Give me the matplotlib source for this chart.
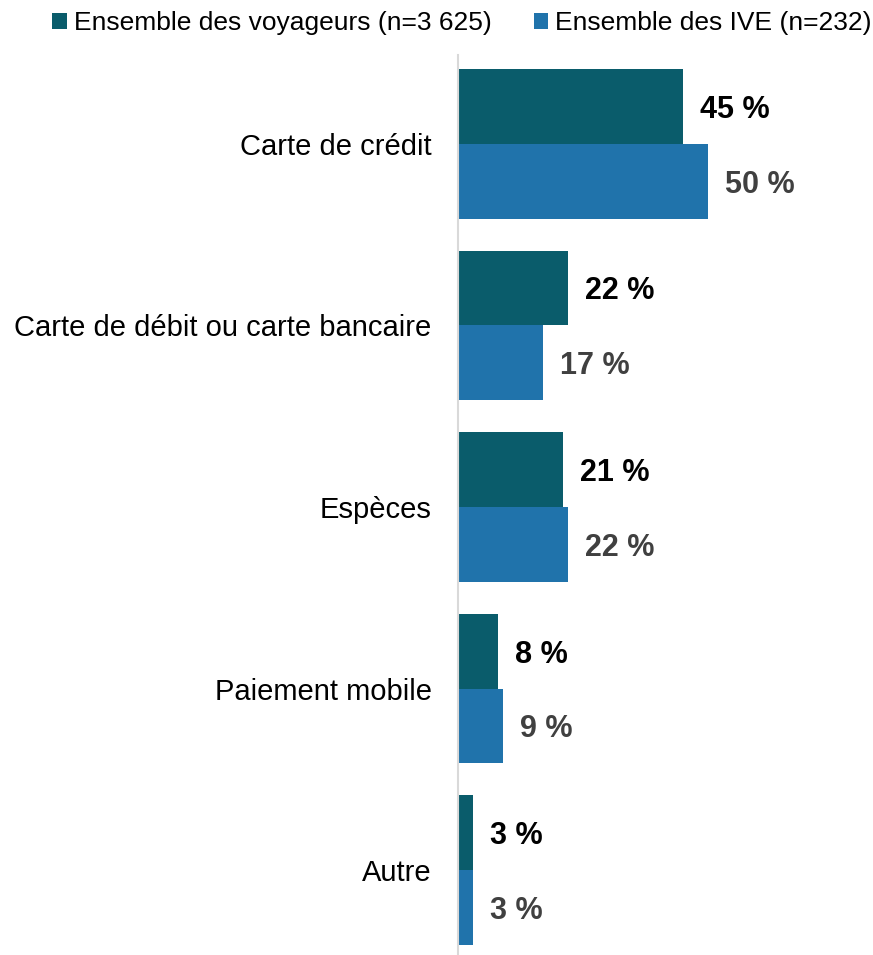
import numpy as np
import matplotlib
matplotlib.use("Agg")
import matplotlib.pyplot as plt

plt.rcParams["font.family"] = ["Liberation Sans", "DejaVu Sans"]

#####################
### Data
#####################
categories = ["Carte de crédit", "Carte de débit ou carte bancaire", "Espèces",
              "Paiement mobile", "Autre"]
voyageurs = [45, 22, 21, 8, 3]
ive = [50, 17, 22, 9, 3]
series_names = ["Ensemble des voyageurs (n=3 625)", "Ensemble des IVE (n=232)"]

c_dark = "#0a5c6b"
c_blue = "#2073ab"

#####################
### Plot
#####################
fig = plt.figure(figsize=(8.73, 9.55), dpi=100)
ax = fig.add_axes([458/873, 0, 1 - 458/873, 900/955])

y = np.arange(len(categories))
h = 75/182
b1 = ax.barh(y - h/2, voyageurs, height=h, color=c_dark, label=series_names[0])
b2 = ax.barh(y + h/2, ive, height=h, color=c_blue, label=series_names[1])

for yy, v in zip(y - h/2, voyageurs):
    ax.annotate(f"{v} %", (v, yy), xytext=(12, -2.5), textcoords="offset points",
                ha="left", va="center", fontsize=22, fontweight="bold", color="black")
for yy, v in zip(y + h/2, ive):
    ax.annotate(f"{v} %", (v, yy), xytext=(12, -2.5), textcoords="offset points",
                ha="left", va="center", fontsize=22, fontweight="bold", color="#404040")

ax.set_xlim(0, 83)
ax.set_ylim(4 + 85/182, -89/182)
ax.set_yticks(y)
ax.set_yticklabels(categories, fontsize=21)
ax.tick_params(axis="y", length=0, pad=19)
ax.set_xticks([])
for s in ["top", "right", "bottom"]:
    ax.spines[s].set_visible(False)
ax.spines["left"].set_color("#d9d9d9")
ax.spines["left"].set_linewidth(1.5)

fig.legend(handles=[b1, b2], loc="upper center", bbox_to_anchor=(0.529, 1.013), ncol=2,
           frameon=False, fontsize=19, handlelength=0.55, handleheight=0.55,
           handletextpad=0.25, columnspacing=1.6)

plt.savefig("out.png", dpi=100)
